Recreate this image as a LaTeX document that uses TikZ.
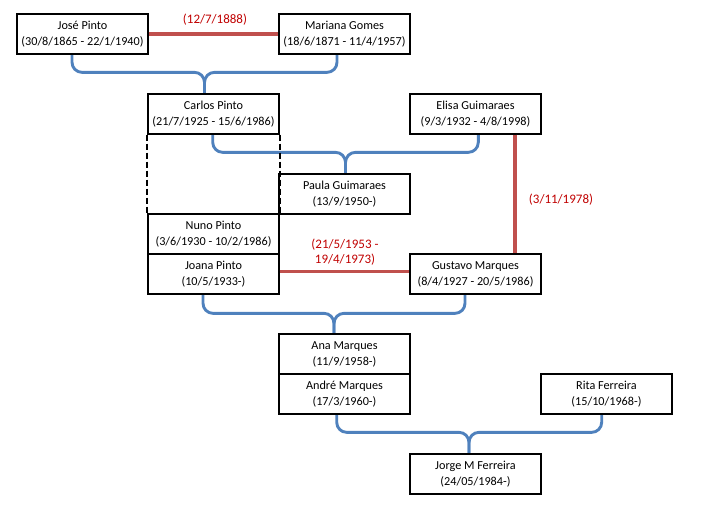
\documentclass[tikz,border=0pt]{standalone}
\usepackage{fontspec}
\setmainfont{Carlito}
\usetikzlibrary{calc}
\definecolor{conblue}{RGB}{79,129,189}
\definecolor{conred}{RGB}{192,80,77}
\definecolor{labred}{RGB}{192,0,0}
\begin{document}
\begin{tikzpicture}[x=1pt,y=-1pt,
  person/.style={draw=black,line width=1.3pt,minimum width=131pt,minimum height=40pt,
    inner sep=0pt,align=center,font=\fontsize{12.2}{16}\selectfont,fill=white},
  brace/.style={draw=conblue,line width=2.9pt,rounded corners=10pt},
  marr/.style={draw=conred,line width=3.2pt},
  marrshadow/.style={draw=black,opacity=0.18,line width=3.4pt,shift={(1pt,-1.5pt)}},
  marlabel/.style={text=labred,align=center,font=\fontsize{13}{15}\selectfont,inner sep=0pt},
  dashside/.style={draw=black,line width=2pt,dash pattern=on 6pt off 3pt}]
\useasboundingbox (0,0) rectangle (724,514);

\node[person] (jose) at (82.5,34) {José Pinto\\(30/8/1865 - 22/1/1940)};
\node[person] (mariana) at (344.5,34) {Mariana Gomes\\(18/6/1871 - 11/4/1957)};
\node[person] (carlos) at (213.5,114) {Carlos Pinto\\(21/7/1925 - 15/6/1986)};
\node[person] (elisa) at (475.5,114) {Elisa Guimaraes\\(9/3/1932 - 4/8/1998)};
\node[person] (paula) at (344.5,194) {Paula Guimaraes\\(13/9/1950-)};
\node[person] (nuno) at (213.5,234) {Nuno Pinto\\(3/6/1930 - 10/2/1986)};
\node[person] (joana) at (213.5,274) {Joana Pinto\\(10/5/1933-)};
\node[person] (gustavo) at (475.5,274) {Gustavo Marques\\(8/4/1927 - 20/5/1986)};
\node[person] (ana) at (344.5,354) {Ana Marques\\(11/9/1958-)};
\node[person] (andre) at (344.5,394) {André Marques\\(17/3/1960-)};
\node[person] (rita) at (606.5,394) {Rita Ferreira\\(15/10/1968-)};
\node[person] (jorge) at (475.5,474) {Jorge M Ferreira\\(24/05/1984-)};

% braces
\draw[brace] ($(jose.south)+(-10.5,0)$) |- ($(carlos.north)+(-9,-21)$) -- ($(carlos.north)+(-9,0)$);
\draw[brace] ($(mariana.south)+(-7.5,0)$) |- ($(carlos.north)+(-9,-21)$) -- ($(carlos.north)+(-9,0)$);

\draw[brace] ($(carlos.south)+(-0.8,0)$) |- ($(paula.north)+(1,-21)$) -- ($(paula.north)+(1,0)$);
\draw[brace] ($(elisa.south)+(2.8,0)$) |- ($(paula.north)+(1,-21)$) -- ($(paula.north)+(1,0)$);

\draw[brace] ($(joana.south)+(-10.5,0)$) |- ($(ana.north)+(-10.5,-20)$) -- ($(ana.north)+(-10.5,0)$);
\draw[brace] ($(gustavo.south)+(-10.5,0)$) |- ($(ana.north)+(-10.5,-20)$) -- ($(ana.north)+(-10.5,0)$);

\draw[brace] ($(andre.south)+(-7.8,0)$) |- ($(jorge.north)+(-6.5,-21)$) -- ($(jorge.north)+(-6.5,0)$);
\draw[brace] ($(rita.south)+(-4.8,0)$) |- ($(jorge.north)+(-6.5,-21)$) -- ($(jorge.north)+(-6.5,0)$);

% redraw box borders above braces
\foreach \n in {jose,mariana,carlos,elisa,paula,nuno,joana,gustavo,ana,andre,rita,jorge}{
  \draw[black,line width=1.3pt] (\n.north west) rectangle (\n.south east);
}

% dashed box between Carlos and Nuno
\draw[dashside] (carlos.south west) -- (nuno.north west);
\draw[dashside] (carlos.south east) -- (nuno.north east);

% marriages
\draw[marrshadow] (jose.east) -- (mariana.west);
\draw[marr] (jose.east) -- (mariana.west);
\node[marlabel] (m1) at (215,20) {(12/7/1888)};

\draw[marrshadow] ($(elisa.south)+(39.5,0)$) -- ($(gustavo.north)+(39.5,0)$);
\draw[marr] ($(elisa.south)+(39.5,0)$) -- ($(gustavo.north)+(39.5,0)$);
\node[marlabel] (m2) at (561,200) {(3/11/1978)};

\draw[marrshadow] ($(joana.east)+(0,-2.3)$) -- ($(gustavo.west)+(0,-2.3)$);
\draw[marr] ($(joana.east)+(0,-2.3)$) -- ($(gustavo.west)+(0,-2.3)$);
\node[marlabel] (m3) at (345,252.5) {(21/5/1953 -\\19/4/1973)};
\end{tikzpicture}
\end{document}
